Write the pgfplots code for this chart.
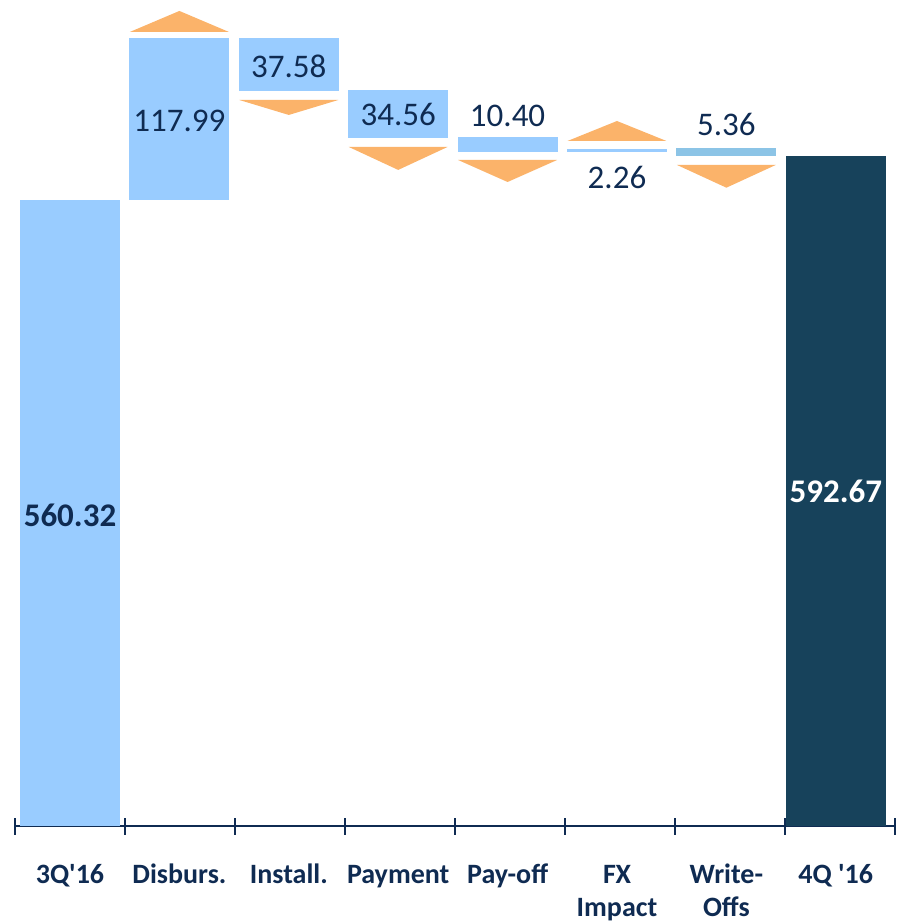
\documentclass[border=0pt]{standalone}
\usepackage{fontspec}
\setmainfont{Carlito}
\usepackage{pgfplots}
\pgfplotsset{compat=1.18}
\definecolor{lblue}{HTML}{99CCFF}
\definecolor{wblue}{HTML}{8CC4E6}
\definecolor{dblue}{HTML}{17425B}
\definecolor{navy}{HTML}{0F2B52}
\definecolor{orng}{HTML}{FBB36A}
\begin{document}
\begin{tikzpicture}
\begin{axis}[name=ax, width=440pt, height=413pt, scale only axis,
  xmin=-0.5, xmax=7.5, ymin=0, ymax=739.3,
  axis x line*=bottom, axis y line=none,
  x axis line style={draw=navy, line width=1pt, -},
  xtick={0,0.9945,1.9891,2.9836,3.9782,4.9727,5.9673,6.9618},
  xticklabels={3Q\textquotesingle16, Disburs., Install., Payment, Pay-off, {FX\\Impact}, {Write-\\Offs}, 4Q \textquotesingle16},
  major tick length=0pt,
  minor xtick={-0.5,0.5,...,7.5},
  minor x tick style={draw=navy, line width=0.8pt},
  minor tick length=8.5pt,
  tick align=center,
  typeset ticklabels with strut,
  xticklabel style={font=\fontsize{14}{16.5}\selectfont\bfseries, text=navy, align=center, anchor=north, inner sep=0pt, yshift=-16.8pt},
  clip=false,
]
% totals and changes (floating bars)
\addplot[fill=lblue, draw=none] coordinates {(-0.455,0) (0.455,0) (0.455,560.32) (-0.455,560.32)};
\addplot[fill=lblue, draw=none] coordinates {(0.5400,560.32) (1.4490,560.32) (1.4490,705.3) (0.5400,705.3)};
\addplot[fill=lblue, draw=none] coordinates {(1.5341,657.9) (2.4441,657.9) (2.4441,705.3) (1.5341,705.3)};
\addplot[fill=lblue, draw=none] coordinates {(2.5286,615.8) (3.4386,615.8) (3.4386,658.8) (2.5286,658.8)};
\addplot[fill=lblue, draw=none] coordinates {(3.5232,603.3) (4.4332,603.3) (4.4332,616.7) (3.5232,616.7)};
\addplot[fill=lblue, draw=none] coordinates {(4.5177,603.3) (5.4277,603.3) (5.4277,606.0) (4.5177,606.0)};
\addplot[fill=wblue, draw=none] coordinates {(5.5123,599.9) (6.4223,599.9) (6.4223,607.2) (5.5123,607.2)};
\addplot[fill=dblue, draw=none] coordinates {(6.5068,0) (7.4168,0) (7.4168,600.0) (6.5068,600.0)};
% direction triangles
\addplot[fill=orng, draw=none] coordinates {(0.5445,710.7) (1.4445,710.7) (0.9945,729.5)};
\addplot[fill=orng, draw=none] coordinates {(1.5391,649.8) (2.4391,649.8) (1.9891,636.4)};
\addplot[fill=orng, draw=none] coordinates {(2.5336,607.8) (3.4336,607.8) (2.9836,587.2)};
\addplot[fill=orng, draw=none] coordinates {(3.5282,596.1) (4.4282,596.1) (3.9782,576.4)};
\addplot[fill=orng, draw=none] coordinates {(4.5227,613.1) (5.4227,613.1) (4.9727,631.0)};
\addplot[fill=orng, draw=none] coordinates {(5.5173,591.7) (6.4173,591.7) (5.9673,571.3)};
% value labels
\begin{scope}[every node/.style={anchor=base, inner sep=0pt, font=\fontsize{16.5}{19}\selectfont, text=navy}]
\node at (axis cs:0.9945,621.5) {117.99};
\node at (axis cs:1.9891,669.9) {37.58};
\node at (axis cs:2.9836,627.0) {34.56};
\node at (axis cs:3.9782,625.9) {10.40};
\node at (axis cs:4.9727,570.9) {2.26};
\node at (axis cs:5.9673,617.6) {5.36};
\node[font=\fontsize{16.5}{19}\selectfont\bfseries] at (axis cs:0,268.5) {560.32};
\node[font=\fontsize{16.5}{19}\selectfont\bfseries, text=white] at (axis cs:6.9618,289.7) {592.67};
\end{scope}
\end{axis}
\pgfresetboundingbox
\path ([xshift=-7.5pt,yshift=-48pt]ax.south west) rectangle ([xshift=5.5pt]ax.north east);
\end{tikzpicture}
\end{document}
